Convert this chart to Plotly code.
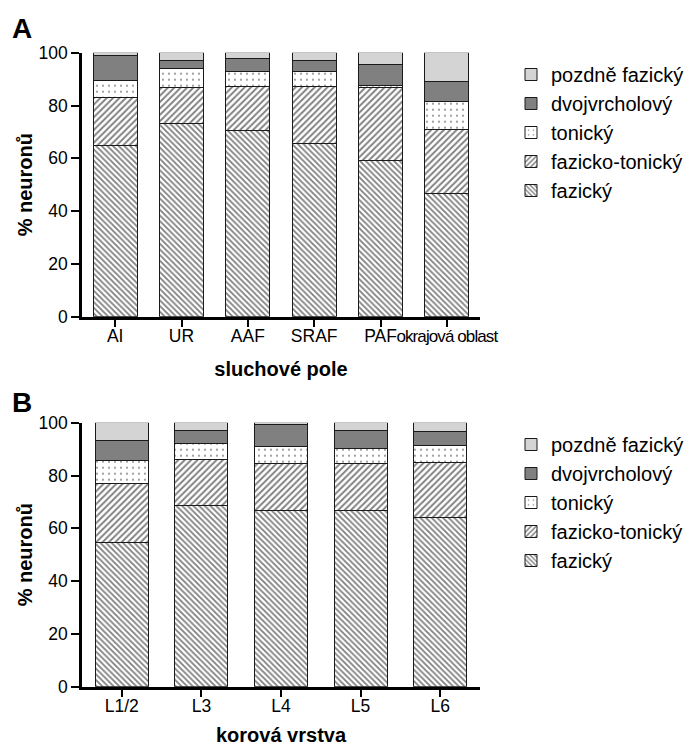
import plotly.graph_objects as go

# Auditory fields (panel A) and cortical layers (panel B)
fields = ["AI", "UR", "AAF", "SRAF", "PAF", "okrajová oblast"]
layers = ["L1/2", "L3", "L4", "L5", "L6"]

# Percentage of neurons per response type, panel A
a_fazicky = [64.8, 73.1, 70.6, 65.5, 59.1, 46.5]
a_fazicko_tonicky = [18.1, 13.7, 16.5, 21.7, 27.7, 24.4]
a_tonicky = [6.5, 7.1, 5.7, 5.8, 0.7, 10.6]
a_dvojvrcholovy = [9.6, 3.3, 5.1, 4.2, 8.1, 7.7]
a_pozdne_fazicky = [1.0, 2.8, 2.1, 2.8, 4.4, 10.8]

# Percentage of neurons per response type, panel B
b_fazicky = [54.7, 68.8, 66.9, 66.9, 64.2]
b_fazicko_tonicky = [22.1, 17.3, 17.7, 17.5, 20.6]
b_tonicky = [8.8, 6.2, 6.2, 5.9, 6.4]
b_dvojvrcholovy = [7.8, 4.7, 8.7, 6.7, 5.5]
b_pozdne_fazicky = [6.6, 3.0, 0.5, 3.0, 3.3]

type_names = ["fazický", "fazicko-tonický", "tonický", "dvojvrcholový", "pozdně fazický"]

FONT = "Liberation Sans, Arial, sans-serif"
OUTLINE = dict(color="#1a1a1a", width=1)

styles = {
    "fazický": dict(color="white", pattern=dict(shape="\\", fgcolor="black", bgcolor="white",
                                                 size=4, solidity=0.45, fillmode="overlay")),
    "fazicko-tonický": dict(color="white", pattern=dict(shape="/", fgcolor="black", bgcolor="white",
                                                         size=4.5, solidity=0.42, fillmode="overlay")),
    "tonický": dict(color="white", pattern=dict(shape=".", fgcolor="black", bgcolor="white",
                                                 size=6, solidity=0.08, fillmode="overlay")),
    "dvojvrcholový": dict(color="#808080"),
    "pozdně fazický": dict(color="#d4d4d4"),
}

# The long field name is set slightly tighter so it fits beside its neighbour
field_ticktext = [
    f if len(f) < 8 else f'<span style="font-size:17px;letter-spacing:-0.9px">{f}</span>'
    for f in fields
]

fig = go.Figure()

panels = [
    ("a", fields, [a_fazicky, a_fazicko_tonicky, a_tonicky, a_dvojvrcholovy, a_pozdne_fazicky],
     "x", "y", "legend"),
    ("b", layers, [b_fazicky, b_fazicko_tonicky, b_tonicky, b_dvojvrcholovy, b_pozdne_fazicky],
     "x2", "y2", "legend2"),
]

for tag, cats, series, xa, ya, lg in panels:
    for rank, (name, vals) in enumerate(zip(type_names, series)):
        fig.add_trace(go.Bar(
            x=cats, y=vals, name=name, xaxis=xa, yaxis=ya, legend=lg,
            legendrank=10 - rank,
            marker=dict(line=OUTLINE, **styles[name]),
            cliponaxis=False,
            hovertemplate="%{x}: %{y:.1f} %<extra>" + name + "</extra>",
        ))

axis_common = dict(
    showline=True, linecolor="black", linewidth=2.5, ticks="outside", ticklen=8,
    tickwidth=2, tickcolor="black", showgrid=False, zeroline=False, automargin=False,
    tickfont=dict(family=FONT, size=17.5, color="black"),
)

title_font = dict(family=FONT, size=20, color="black", weight="bold")

yaxis_common = dict(axis_common, range=[0, 100], tickvals=[0, 20, 40, 60, 80, 100],
                    title=dict(text="% neuronů", standoff=1, font=title_font))

legend_common = dict(x=511 / 700, xanchor="left", yanchor="top", traceorder="normal",
                     font=dict(family=FONT, size=20, color="black"), bgcolor="rgba(0,0,0,0)")

fig.update_layout(
    width=700, height=747,
    margin=dict(l=0, r=0, t=0, b=0),
    paper_bgcolor="white", plot_bgcolor="white",
    barmode="stack", bargap=0.335,
    showlegend=True,
    xaxis=dict(axis_common, domain=[82 / 700, 480 / 700], anchor="y", tickangle=0,
               tickmode="array", tickvals=fields, ticktext=field_ticktext,
               ticklabelstandoff=-6,
               title=dict(text="sluchové pole", standoff=17, font=title_font)),
    yaxis=dict(yaxis_common, domain=[1 - 316.7 / 747, 1 - 52.7 / 747], anchor="x"),
    xaxis2=dict(axis_common, domain=[82 / 700, 480 / 700], anchor="y2", tickangle=0,
                ticklabelstandoff=-6,
                title=dict(text="korová vrstva", standoff=13, font=title_font)),
    yaxis2=dict(yaxis_common, domain=[1 - 686.7 / 747, 1 - 422.7 / 747], anchor="x2"),
    legend=dict(legend_common, y=1 - 55 / 747),
    legend2=dict(legend_common, y=1 - 425 / 747),
    annotations=[
        dict(text="A", x=10 / 700, y=1 - 28 / 747, xref="paper", yref="paper",
             xanchor="left", yanchor="middle", showarrow=False,
             font=dict(family=FONT, size=28, color="black", weight="bold")),
        dict(text="B", x=10 / 700, y=1 - 402 / 747, xref="paper", yref="paper",
             xanchor="left", yanchor="middle", showarrow=False,
             font=dict(family=FONT, size=28, color="black", weight="bold")),
    ],
)

fig.write_html("out.html")
